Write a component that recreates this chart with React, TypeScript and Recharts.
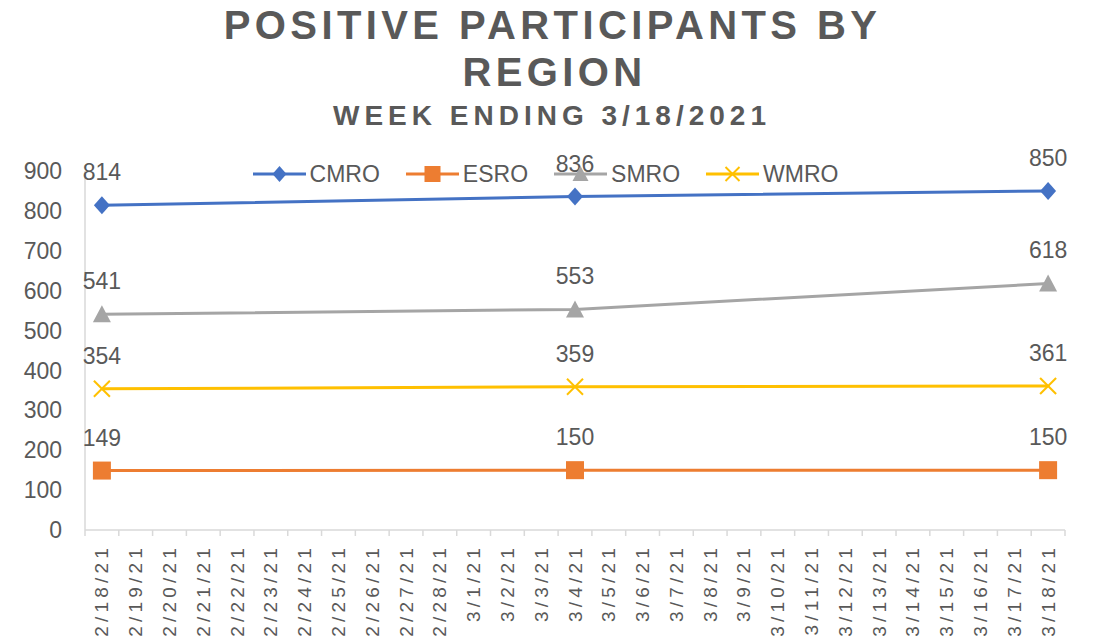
import React from 'react';
import { LineChart, Line, XAxis, YAxis, Legend, LabelList } from 'recharts';

// Tick labels for the daily date axis
const dates = [
  '2/18/21', '2/19/21', '2/20/21', '2/21/21', '2/22/21', '2/23/21', '2/24/21', '2/25/21',
  '2/26/21', '2/27/21', '2/28/21', '3/1/21', '3/2/21', '3/3/21', '3/4/21', '3/5/21',
  '3/6/21', '3/7/21', '3/8/21', '3/9/21', '3/10/21', '3/11/21', '3/12/21', '3/13/21',
  '3/14/21', '3/15/21', '3/16/21', '3/17/21', '3/18/21',
];

// Dates on which values were reported
const sampleDates = ['2/18/21', '3/4/21', '3/18/21'];

// Series values (one per sample date)
const cmro = [814, 836, 850];
const esro = [149, 150, 150];
const smro = [541, 553, 618];
const wmro = [354, 359, 361];

const yTicks = [0, 100, 200, 300, 400, 500, 600, 700, 800, 900];

const FONT = '"Liberation Sans", Arial, Helvetica, sans-serif';
const TEXT = '#595959';
const AXIS = '#d9d9d9';

const COLORS = {
  CMRO: '#4472C4',
  ESRO: '#ED7D31',
  SMRO: '#A5A5A5',
  WMRO: '#FFC000',
};

const pick = (arr: number[], d: string) => {
  const i = sampleDates.indexOf(d);
  return i >= 0 ? arr[i] : null;
};

const data = dates.map((d, i) => ({
  idx: i,
  date: d,
  CMRO: pick(cmro, d),
  ESRO: pick(esro, d),
  SMRO: pick(smro, d),
  WMRO: pick(wmro, d),
}));

// category centres (labels) and the boundaries between categories (tick marks)
const xTicks = [
  ...dates.map((_, i) => i - 0.5),
  dates.length - 0.5,
  ...dates.map((_, i) => i),
].sort((a, b) => a - b);
const xDomain: [number, number] = [-0.5, dates.length - 0.5];

type Shape = 'diamond' | 'square' | 'triangle' | 'x';

const Marker = ({ cx, cy, shape, color, s = 8 }: { cx: number; cy: number; shape: Shape; color: string; s?: number }) => {
  if (shape === 'diamond') {
    return <polygon points={`${cx},${cy - s - 1} ${cx + s},${cy} ${cx},${cy + s + 1} ${cx - s},${cy}`} fill={color} />;
  }
  if (shape === 'square') {
    return <rect x={cx - s - 1} y={cy - s - 1} width={2 * s + 2} height={2 * s + 2} fill={color} />;
  }
  if (shape === 'triangle') {
    return <polygon points={`${cx},${cy - s - 1} ${cx + s + 1},${cy + s} ${cx - s - 1},${cy + s}`} fill={color} />;
  }
  return (
    <g stroke={color} strokeWidth={2}>
      <line x1={cx - s} y1={cy - s} x2={cx + s} y2={cy + s} />
      <line x1={cx - s} y1={cy + s} x2={cx + s} y2={cy - s} />
    </g>
  );
};

const makeDot = (shape: Shape, color: string) => (props: any) => {
  const { cx, cy, value, index } = props;
  if (value == null || cx == null || cy == null) return <g key={`n-${index}`} />;
  return (
    <g key={`d-${index}`}>
      <Marker cx={cx} cy={cy} shape={shape} color={color} />
    </g>
  );
};

const renderLabel = (props: any) => {
  const { x, y, value } = props;
  if (value == null || x == null || y == null) return null;
  return (
    <text x={x} y={y - 33} textAnchor="middle" dominantBaseline="central" fill={TEXT} fontSize={23} fontFamily={FONT}>
      {value}
    </text>
  );
};

// tickSize 0, tickMargin 0 => y is the axis line position
const XTick = (props: any) => {
  const { x, y, payload } = props;
  const v = payload.value as number;
  if (!Number.isInteger(v)) {
    return <line x1={x} y1={y} x2={x} y2={y + 6} stroke={AXIS} strokeWidth={1.5} />;
  }
  const ty = y + 14;
  return (
    <text
      x={x}
      y={ty}
      transform={`rotate(-90, ${x}, ${ty})`}
      textAnchor="end"
      dominantBaseline="central"
      fill={TEXT}
      fontSize={19}
      fontFamily={FONT}
      letterSpacing={4.2}
    >
      {dates[v]}
    </text>
  );
};

const legendItems: { key: keyof typeof COLORS; shape: Shape }[] = [
  { key: 'CMRO', shape: 'diamond' },
  { key: 'ESRO', shape: 'square' },
  { key: 'SMRO', shape: 'triangle' },
  { key: 'WMRO', shape: 'x' },
];

const LegendContent = () => (
  <div style={{ display: 'flex', justifyContent: 'center', alignItems: 'center', gap: 26, fontFamily: FONT, paddingRight: 8 }}>
    {legendItems.map((it) => (
      <div key={it.key} style={{ display: 'flex', alignItems: 'center' }}>
        <svg width={53} height={24}>
          <line x1={0} y1={12} x2={53} y2={12} stroke={COLORS[it.key]} strokeWidth={3} />
          <Marker cx={26.5} cy={12} shape={it.shape} color={COLORS[it.key]} s={7} />
        </svg>
        <span style={{ marginLeft: 4, fontSize: 23, color: TEXT, lineHeight: '24px' }}>{it.key}</span>
      </div>
    ))}
  </div>
);

const titleStyle: React.CSSProperties = {
  position: 'absolute', left: 0, width: 1099, textAlign: 'center', fontFamily: FONT,
  fontWeight: 'bold', color: TEXT, boxSizing: 'border-box',
};

export default function App() {
  return (
    <div style={{ position: 'absolute', left: 0, top: 0, width: 1099, height: 640, background: '#fff', overflow: 'hidden' }}>
      <div style={{ ...titleStyle, top: 5, fontSize: 40, lineHeight: '40px', letterSpacing: 4.4, paddingLeft: 6 }}>
        POSITIVE PARTICIPANTS BY
      </div>
      <div style={{ ...titleStyle, top: 52, fontSize: 40, lineHeight: '40px', letterSpacing: 4.4, paddingLeft: 10 }}>
        REGION
      </div>
      <div style={{ ...titleStyle, top: 102, fontSize: 28, lineHeight: '28px', letterSpacing: 5, paddingLeft: 5 }}>
        WEEK ENDING 3/18/2021
      </div>
      <LineChart width={1099} height={640} data={data} margin={{ top: 171, right: 34, left: 0, bottom: 0 }}>
        <XAxis
          type="number"
          dataKey="idx"
          domain={xDomain}
          ticks={xTicks}
          interval={0}
          height={110}
          tickLine={false}
          tickSize={0}
          tickMargin={0}
          axisLine={{ stroke: AXIS, strokeWidth: 1.5 }}
          tick={<XTick />}
        />
        <YAxis
          domain={[0, 900]}
          ticks={yTicks}
          width={85}
          tickLine={false}
          tickSize={0}
          tickMargin={23}
          axisLine={{ stroke: AXIS, strokeWidth: 1.5 }}
          tick={{ fill: TEXT, fontSize: 23, fontFamily: FONT }}
        />
        <Legend
          verticalAlign="middle"
          align="center"
          layout="horizontal"
          wrapperStyle={{ top: 162, left: 0, width: 1099 }}
          content={<LegendContent />}
        />
        <Line dataKey="CMRO" stroke={COLORS.CMRO} strokeWidth={3} connectNulls isAnimationActive={false} dot={makeDot('diamond', COLORS.CMRO)} activeDot={false}>
          <LabelList dataKey="CMRO" content={renderLabel} />
        </Line>
        <Line dataKey="ESRO" stroke={COLORS.ESRO} strokeWidth={3} connectNulls isAnimationActive={false} dot={makeDot('square', COLORS.ESRO)} activeDot={false}>
          <LabelList dataKey="ESRO" content={renderLabel} />
        </Line>
        <Line dataKey="SMRO" stroke={COLORS.SMRO} strokeWidth={3} connectNulls isAnimationActive={false} dot={makeDot('triangle', COLORS.SMRO)} activeDot={false}>
          <LabelList dataKey="SMRO" content={renderLabel} />
        </Line>
        <Line dataKey="WMRO" stroke={COLORS.WMRO} strokeWidth={3} connectNulls isAnimationActive={false} dot={makeDot('x', COLORS.WMRO)} activeDot={false}>
          <LabelList dataKey="WMRO" content={renderLabel} />
        </Line>
      </LineChart>
    </div>
  );
}
